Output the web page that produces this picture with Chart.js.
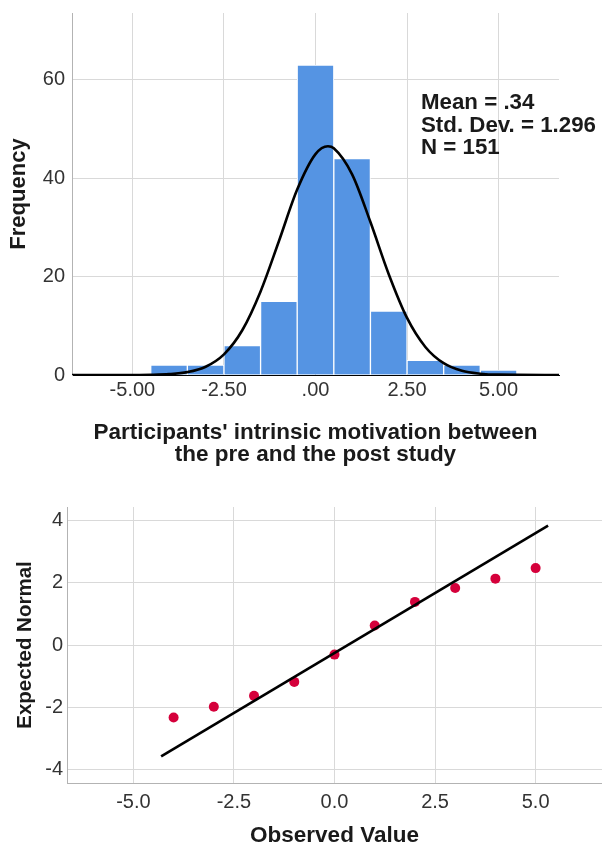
<!DOCTYPE html>
<html>
<head>
<meta charset="utf-8">
<script src="https://cdn.jsdelivr.net/npm/chart.js@4.4.1/dist/chart.umd.min.js"></script>
<style>
  body { margin: 0; background: #fff; }
  #wrap { position: relative; width: 602px; height: 849px; }
  #histChart { position: absolute; left: 0; top: 0; }
  #qqChart { position: absolute; left: 0; top: 490px; }
</style>
</head>
<body>
<div id="wrap">
  <canvas id="histChart" width="602" height="475"></canvas>
  <canvas id="qqChart" width="602" height="359"></canvas>
</div>
<script>
// histogram data
const binCenters = [-4, -3, -2, -1, 0, 1, 2, 3, 4, 5];
const frequencies = [2, 2, 6, 15, 63, 44, 13, 3, 2, 1];
// normal curve heights
const curveX = [-6.65, -5, -4.5, -4, -3.5, -3, -2.5, -2, -1.5, -1, -0.5, 0, 0.34, 0.5, 1, 1.5, 2, 2.5, 3, 3.5, 4, 4.5, 5, 6.65];
const curveY = [0, 0.01, 0.04, 0.17, 0.58, 1.68, 4.2, 9.1, 17.0, 27.2, 37.7, 44.9, 46.5, 46.1, 40.8, 31.1, 20.5, 11.6, 5.7, 2.4, 0.86, 0.27, 0.07, 0];
const histTicksX = [-5, -2.5, 0, 2.5, 5];
const histTickLabelsX = ['-5.00', '-2.50', '.00', '2.50', '5.00'];
const histTicksY = [0, 20, 40, 60];
const statsText = ['Mean = .34', 'Std. Dev. = 1.296', 'N = 151'];

// Q-Q plot data
const observed = [-4, -3, -2, -1, 0, 1, 2, 3, 4, 5];
const expectedNormal = [-2.34, -1.99, -1.64, -1.19, -0.31, 0.63, 1.39, 1.84, 2.14, 2.48];
const lineX = [-4.31, 5.31];
const lineY = [-3.59, 3.85];
const qqTicksX = [-5, -2.5, 0, 2.5, 5];
const qqTickLabelsX = ['-5.0', '-2.5', '0.0', '2.5', '5.0'];
const qqTicksY = [-4, -2, 0, 2, 4];

const FONT = "'Liberation Sans', Arial, sans-serif";
const gridColor = '#d9d9d9';
const axisColor = '#b3b3b3';
const tickColor = '#333';
const titleColor = '#1a1a1a';

Chart.defaults.font.family = FONT;

// keep the plot area exactly where the layout padding puts it
function noPad(s) {
    s.paddingTop = 0;
    s.paddingBottom = 0;
    s.paddingLeft = 0;
    s.paddingRight = 0;
}

// stats box in the top right of the histogram
const statsBox = {
    id: 'statsBox',
    afterDraw(chart) {
        const c = chart.ctx;
        c.save();
        c.font = 'bold 22.3px ' + FONT;
        c.fillStyle = titleColor;
        c.textBaseline = 'middle';
        c.textAlign = 'left';
        statsText.forEach((t, i) => c.fillText(t, 421, 103 + i * 22.5));
        c.restore();
    }
};

new Chart(document.getElementById('histChart'), {
    type: 'bar',
    data: {
        datasets: [{
            type: 'line',
            data: curveX.map((x, i) => ({ x: x, y: curveY[i] })),
            borderColor: '#000',
            borderWidth: 2.6,
            pointRadius: 0,
            fill: false,
            cubicInterpolationMode: 'monotone',
            order: 0
        }, {
            type: 'bar',
            data: binCenters.map((x, i) => ({ x: x, y: frequencies[i] })),
            backgroundColor: '#5594e3',
            borderColor: '#ffffff',
            borderWidth: 1,
            barPercentage: 1,
            categoryPercentage: 1,
            order: 1
        }]
    },
    options: {
        responsive: false,
        animation: false,
        devicePixelRatio: 1,
        layout: { autoPadding: false, padding: { top: 13, right: 43, left: 0, bottom: 0 } },
        plugins: { legend: { display: false }, tooltip: { enabled: false } },
        scales: {
            x: {
                type: 'linear',
                min: -6.65,
                max: 6.65,
                offset: false,
                afterBuildTicks: s => { s.ticks = histTicksX.map(v => ({ value: v })); },
                afterFit: s => { s.height = 100; noPad(s); },
                grid: { color: gridColor, drawTicks: false, offset: false },
                border: { color: '#000' },
                ticks: {
                    padding: 3,
                    color: tickColor,
                    font: { size: 20 },
                    maxRotation: 0,
                    callback: v => histTickLabelsX[histTicksX.indexOf(v)]
                },
                title: {
                    display: true,
                    text: ["Participants' intrinsic motivation between", 'the pre and the post study'],
                    color: titleColor,
                    font: { size: 22.5, weight: 'bold', lineHeight: 0.98 },
                    padding: { top: 0, bottom: 9 }
                }
            },
            y: {
                min: 0,
                max: 73.6,
                afterBuildTicks: s => { s.ticks = histTicksY.map(v => ({ value: v })); },
                afterFit: s => { s.width = 72; noPad(s); },
                grid: { color: gridColor, drawTicks: false },
                border: { color: axisColor },
                ticks: { padding: 7, color: tickColor, font: { size: 20 } },
                title: {
                    display: true,
                    text: 'Frequency',
                    color: titleColor,
                    font: { size: 22, weight: 'bold', lineHeight: 1.1 },
                    padding: { top: 6.4, bottom: 0 }
                }
            }
        }
    },
    plugins: [statsBox]
});

new Chart(document.getElementById('qqChart'), {
    type: 'scatter',
    data: {
        datasets: [{
            data: observed.map((x, i) => ({ x: x, y: expectedNormal[i] })),
            backgroundColor: '#d5003b',
            borderWidth: 0,
            pointRadius: 5,
            order: 1
        }, {
            type: 'line',
            data: lineX.map((x, i) => ({ x: x, y: lineY[i] })),
            borderColor: '#000',
            borderWidth: 2.6,
            pointRadius: 0,
            fill: false,
            order: 0
        }]
    },
    options: {
        responsive: false,
        animation: false,
        devicePixelRatio: 1,
        layout: { autoPadding: false, padding: { top: 17, right: 0, left: 0, bottom: 0 } },
        plugins: { legend: { display: false }, tooltip: { enabled: false } },
        scales: {
            x: {
                type: 'linear',
                min: -6.65,
                max: 6.65,
                afterBuildTicks: s => { s.ticks = qqTicksX.map(v => ({ value: v })); },
                afterFit: s => { s.height = 66; noPad(s); },
                grid: { color: gridColor, drawTicks: false },
                border: { color: axisColor },
                ticks: {
                    padding: 7,
                    color: tickColor,
                    font: { size: 20 },
                    maxRotation: 0,
                    callback: v => qqTickLabelsX[qqTicksX.indexOf(v)]
                },
                title: {
                    display: true,
                    text: 'Observed Value',
                    color: titleColor,
                    font: { size: 22.5, weight: 'bold', lineHeight: 1.0 },
                    padding: { top: 0, bottom: 1.75 }
                }
            },
            y: {
                min: -4.45,
                max: 4.45,
                afterBuildTicks: s => { s.ticks = qqTicksY.map(v => ({ value: v })); },
                afterFit: s => { s.width = 67; noPad(s); },
                grid: { color: gridColor, drawTicks: false },
                border: { color: axisColor },
                ticks: { padding: 4, color: tickColor, font: { size: 20 } },
                title: {
                    display: true,
                    text: 'Expected Normal',
                    color: titleColor,
                    font: { size: 20.5, weight: 'bold', lineHeight: 1.1 },
                    padding: { top: 13.7, bottom: 0 }
                }
            }
        }
    }
});
</script>
</body>
</html>
